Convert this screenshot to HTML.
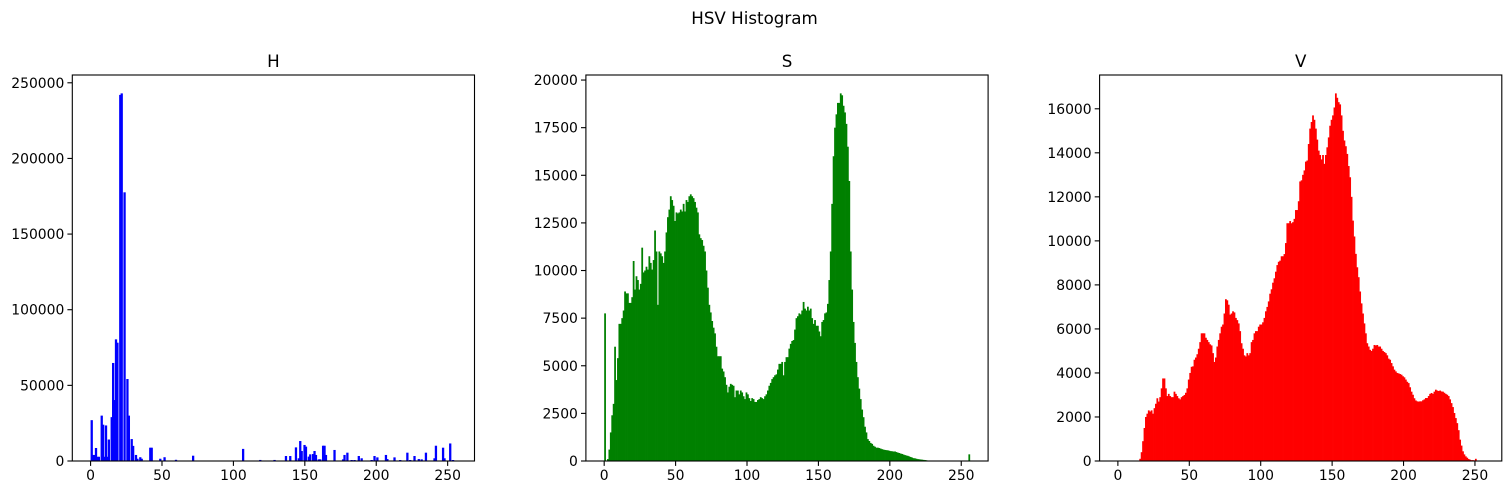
<!DOCTYPE html>
<html><head><meta charset="utf-8"><style>
html,body{margin:0;padding:0;background:#fff;}
svg{display:block;font-family:"DejaVu Sans","Liberation Sans",sans-serif;}
</style></head><body>
<svg id="fig" width="1509" height="495" viewBox="0 0 1509 495" xmlns="http://www.w3.org/2000/svg">
<rect width="1509" height="495" fill="#fff"/>
<text x="754.5" y="24" text-anchor="middle" font-size="16.7" fill="#000">HSV Histogram</text>
</svg>
<script>
const xTicks = [0,50,100,150,200,250];
const hTicks = [0,50000,100000,150000,200000,250000];
const sTicks = [0,2500,5000,7500,10000,12500,15000,17500,20000];
const vTicks = [0,2000,4000,6000,8000,10000,12000,14000,16000];
const hValues = [
27000,4000,4000,8600,2800,2800,0,30000,24000,2800,23500,2800,14200,0,29000,64800,
40300,80400,78200,0,242000,243000,0,177600,0,54200,30000,0,14500,10000,0,4000,
1500,0,2500,1500,0,300,0,0,0,8800,8800,0,0,0,0,0,
1500,0,0,2500,0,0,0,0,0,0,0,800,0,0,0,0,
0,0,0,0,0,0,0,3500,0,0,0,0,0,0,0,0,
0,0,0,0,0,0,0,0,0,0,0,0,0,0,0,0,
0,0,0,0,0,0,0,0,0,0,8000,0,0,0,0,0,
0,0,0,0,0,0,700,0,0,0,0,0,0,0,0,0,
700,0,0,0,0,0,0,0,3300,0,0,3300,0,0,0,9000,
0,1800,13200,6600,0,10600,9500,0,2900,4400,0,4600,6600,4000,0,1100,
1100,0,10100,10100,4000,0,0,0,0,0,7300,0,0,0,0,0,
1100,4000,0,5500,0,0,660,0,660,0,0,3300,0,1800,0,0,
0,0,0,0,660,0,3300,0,2400,0,0,0,0,0,4000,1300,
0,0,0,0,2400,0,0,0,660,0,0,0,0,5500,0,660,
0,0,3300,0,0,1300,0,1100,0,0,5500,0,0,0,0,0,
1800,10100,0,0,0,0,8800,1800,0,0,0,11600,0,660,0,0];
const sValues = [
7750,0,100,600,1500,2400,3000,6000,4250,5400,7200,7200,7500,7900,8900,8800,
8800,8300,8300,8600,10500,9000,9700,9500,9000,9300,11200,9900,10000,10200,10050,10750,
10400,10050,10550,12100,11000,8200,11000,10900,10750,10400,11000,12000,12800,13200,13900,13700,
13400,12600,13050,13000,13050,13200,13100,13500,13100,13700,13600,13900,14000,13900,13800,13600,
13300,13050,11900,11700,11600,11300,11000,10000,9100,8200,7800,7350,7000,6700,6000,5500,
5500,5500,4850,4700,4400,4000,3600,3900,4050,4000,3950,3350,3700,3700,3500,3700,
3600,3400,3250,3600,3500,3300,3150,3300,3250,3100,3100,3200,3250,3350,3300,3250,
3400,3500,3700,3950,4100,4300,4400,4500,4550,4800,5100,5100,5200,4500,5200,5450,
5450,5900,6150,6300,6350,6900,7500,7600,7750,7700,7900,8350,8000,7900,8100,7900,
8000,7500,7200,7400,7100,7100,6800,6550,7300,7400,7750,7800,8250,9500,11000,13500,
16000,17500,18200,18800,18800,19300,19200,18650,18300,17700,16500,14700,11000,9000,7300,6200,
5200,4400,3800,3250,2700,2300,1800,1500,1150,1050,950,900,800,750,700,700,
680,650,620,600,580,570,560,540,520,510,500,500,470,440,420,390,
370,340,310,290,270,240,210,180,150,140,120,100,90,80,70,60,
50,40,20,10,10,10,10,10,10,10,10,10,10,10,10,10,
10,10,10,10,10,10,10,10,10,10,10,10,10,10,10,350];
const vValues = [
20,20,20,20,20,20,20,20,20,20,20,20,20,20,20,100,
400,900,1500,2000,2150,2300,2250,2300,2150,2400,2600,2850,2700,2900,3300,3750,
3750,3300,2950,3050,2950,2900,2900,3150,3050,2950,2850,2800,2900,2950,3000,3100,
3300,3700,4000,4280,4300,4600,4700,4850,5100,5400,5800,5800,5800,5600,5500,5400,
5300,5250,4900,4500,4700,5200,5500,5800,6100,6200,6700,7350,7300,7100,6650,6700,
6800,6750,6500,6400,6250,5900,5350,5100,4800,4750,4900,4800,4900,5400,5500,5800,
5900,5900,6100,6200,6200,6300,6500,6800,7000,7250,7600,7800,8100,8300,8600,8900,
9050,9100,9300,9300,9400,9900,10800,10800,10900,10800,10850,11000,11400,11400,11800,12700,
12750,13000,13200,13600,13650,14400,15100,15400,15700,15500,15100,14600,14100,13900,13700,13900,
13500,13900,14250,14700,15230,15500,15700,16060,16700,16500,16300,16200,15700,15000,14560,14300,
13950,13400,12890,12000,10920,10200,9410,8800,8350,7700,7160,6700,6250,5800,5350,5200,
5050,5000,5100,5270,5250,5270,5200,5200,5100,5000,4950,4900,4800,4650,4600,4450,
4300,4150,4070,4000,3980,3950,3920,3850,3800,3700,3600,3540,3350,3150,3010,2850,
2750,2710,2700,2710,2710,2760,2800,2860,2860,2950,3050,3090,3050,3150,3240,3200,
3180,3200,3160,3150,3100,3050,3010,2950,2800,2630,2450,2180,1950,1720,1400,970,
700,440,300,210,150,90,60,40,40,30,100,20,10,10,10,10];

const NS = "http://www.w3.org/2000/svg";
const svg = document.getElementById('fig');
function mk(tag, attrs, parent){
  const e = document.createElementNS(NS, tag);
  for (const k in attrs) e.setAttribute(k, attrs[k]);
  (parent||svg).appendChild(e);
  return e;
}
const TOP = 75, BOT = 461, W = 402.2;
const panels = [
  {key:'h', left:72.3, values:hValues, ticks:hTicks, color:'#0000ff', title:'H', gap:true},
  {key:'s', left:585.9, values:sValues, ticks:sTicks, color:'#008000', title:'S', gap:false},
  {key:'v', left:1099.6, values:vValues, ticks:vTicks, color:'#ff0000', title:'V', gap:false}
];
panels.forEach(p => {
  const g = mk('g', {});
  
  
  const xmin = -12.8, xmax = 268.8;
  const xs = v => p.left + (v - xmin) / (xmax - xmin) * W;
  const ymax = Math.max(...p.values) * 1.05;
  const ys = v => BOT - v / ymax * (BOT - TOP);
  const bars = mk('g', {}, g);
  
  
  p.values.forEach((v, i) => {
    if (v <= 0) return;
    const x0 = xs(i), x1 = xs(i + 1);
    const w = p.gap ? (x1 - x0) * 1.6 : (x1 - x0 + 0.35);
    const r = mk('rect', {x:x0, y:ys(v), width:w, height:BOT - ys(v), fill:p.color}, bars);
    
    
  });
  const fr = mk('rect', {x:p.left, y:TOP, width:W, height:BOT-TOP, fill:'none', stroke:'#000', 'stroke-width':1.1}, g);
  
  
  xTicks.forEach(t => {
    const x = xs(t);
    const tl = mk('line', {x1:x, y1:BOT, x2:x, y2:BOT+4.9, stroke:'#000', 'stroke-width':1.1}, g);
    
    
    const tx = mk('text', {x:x, y:BOT+19, 'text-anchor':'middle', 'font-size':13.9, fill:'#000'}, g);
    tx.textContent = String(t);
    
    
  });
  p.ticks.forEach(t => {
    const y = ys(t);
    const tl = mk('line', {x1:p.left-4.9, y1:y, x2:p.left, y2:y, stroke:'#000', 'stroke-width':1.1}, g);
    
    
    const tx = mk('text', {x:p.left-8, y:y+5, 'text-anchor':'end', 'font-size':13.9, fill:'#000'}, g);
    tx.textContent = String(t);
    
    
  });
  const ti = mk('text', {x:p.left + W/2, y:TOP-8, 'text-anchor':'middle', 'font-size':16.7, fill:'#000'}, g);
  ti.textContent = p.title;
  
  
});
</script>
</body></html>
